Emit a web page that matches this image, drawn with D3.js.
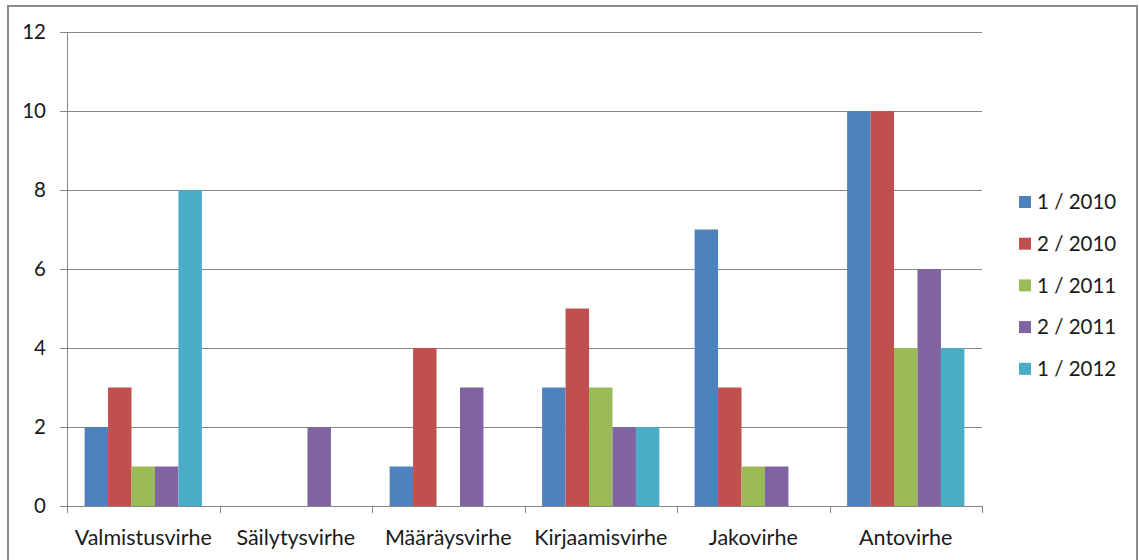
<!DOCTYPE html>
<html>
<head>
<meta charset="utf-8">
<script src="https://cdn.jsdelivr.net/npm/d3@7"></script>
<style>
  html, body { margin: 0; padding: 0; background: #fff; }
  svg { display: block; }
</style>
</head>
<body>
<svg id="chart" width="1139" height="560"></svg>
<script>
// Virhetyypit ja jaksokohtaiset lukumäärät
const categories = ["Valmistusvirhe", "Säilytysvirhe", "Määräysvirhe", "Kirjaamisvirhe", "Jakovirhe", "Antovirhe"];
const seriesNames = ["1 / 2010", "2 / 2010", "1 / 2011", "2 / 2011", "1 / 2012"];
const s2010a = [2, 0, 1, 3, 7, 10];
const s2010b = [3, 0, 4, 5, 3, 10];
const s2011a = [1, 0, 0, 3, 1, 4];
const s2011b = [1, 2, 3, 2, 1, 6];
const s2012a = [8, 0, 0, 2, 0, 4];
const yTicks = [0, 2, 4, 6, 8, 10, 12];
const colors = ["#4F81BD", "#C0504D", "#9BBB59", "#8064A2", "#4BACC6"];

const seriesValues = [s2010a, s2010b, s2011a, s2011b, s2012a];

const svg = d3.select("#chart");
const font = "Lato, 'Open Sans', sans-serif";
const fontSize = 20.5;

// Outer chart frame
svg.append("rect")
  .attr("x", 8).attr("y", 6)
  .attr("width", 1129).attr("height", 570)
  .attr("fill", "#fff")
  .attr("stroke", "#8c8c8c").attr("stroke-width", 2);

const plot = { left: 67, right: 982, top: 32, bottom: 506 };

// Category slots with an Excel-style 150% gap between clusters
const x0 = d3.scaleBand()
  .domain(categories)
  .range([plot.left, plot.right])
  .padding(0);
const slot = x0.bandwidth();
const barW = slot / 6.5;
const x1 = d3.scaleBand()
  .domain(d3.range(seriesNames.length))
  .range([0, barW * seriesNames.length]);

const y = d3.scaleLinear().domain([0, 12]).range([plot.bottom, plot.top]);

// Horizontal gridlines
svg.append("g")
  .selectAll("line")
  .data(yTicks)
  .join("line")
  .attr("x1", plot.left - 7).attr("x2", plot.right)
  .attr("y1", d => Math.round(y(d)) + 0.5).attr("y2", d => Math.round(y(d)) + 0.5)
  .attr("stroke", "#868686").attr("stroke-width", 1);

// Y axis labels
svg.append("g")
  .selectAll("text")
  .data(yTicks)
  .join("text")
  .attr("x", 46)
  .attr("y", d => y(d))
  .attr("dy", "0.35em")
  .attr("text-anchor", "end")
  .attr("font-family", font)
  .attr("font-size", fontSize)
  .attr("fill", "#1a1a1a")
  .text(d => d);

// Bars
const groups = svg.append("g")
  .selectAll("g")
  .data(categories)
  .join("g")
  .attr("transform", c => `translate(${x0(c) + barW * 0.75},0)`);

groups.selectAll("rect")
  .data((c, i) => seriesValues.map((vals, s) => ({ s, v: vals[i] })))
  .join("rect")
  .attr("x", d => x1(d.s))
  .attr("width", x1.bandwidth())
  .attr("y", d => y(d.v))
  .attr("height", d => y(0) - y(d.v))
  .attr("fill", d => colors[d.s]);

// Axis lines
svg.append("line")
  .attr("x1", plot.left + 0.5).attr("x2", plot.left + 0.5)
  .attr("y1", plot.top).attr("y2", plot.bottom + 7)
  .attr("stroke", "#868686");
svg.append("line")
  .attr("x1", plot.left).attr("x2", plot.right)
  .attr("y1", plot.bottom + 0.5).attr("y2", plot.bottom + 0.5)
  .attr("stroke", "#868686");

// Category ticks
svg.append("g")
  .selectAll("line")
  .data(d3.range(categories.length + 1))
  .join("line")
  .attr("x1", i => Math.round(plot.left + i * slot) + 0.5)
  .attr("x2", i => Math.round(plot.left + i * slot) + 0.5)
  .attr("y1", plot.bottom).attr("y2", plot.bottom + 7)
  .attr("stroke", "#868686");

// Category labels
svg.append("g")
  .selectAll("text")
  .data(categories)
  .join("text")
  .attr("x", c => x0(c) + slot / 2)
  .attr("y", 537)
  .attr("dy", "0.35em")
  .attr("text-anchor", "middle")
  .attr("font-family", font)
  .attr("font-size", 21.5)
  .attr("fill", "#1a1a1a")
  .text(c => c);

// Legend
const legend = svg.append("g")
  .selectAll("g")
  .data(seriesNames)
  .join("g")
  .attr("transform", (d, i) => `translate(1019, ${202 + i * 41.7})`);
legend.append("rect")
  .attr("x", 0).attr("y", -6)
  .attr("width", 12).attr("height", 12)
  .attr("fill", (d, i) => colors[i]);
legend.append("text")
  .attr("x", 18).attr("y", 0)
  .attr("dy", "0.35em")
  .attr("font-family", font)
  .attr("font-size", fontSize)
  .attr("fill", "#1a1a1a")
  .text(d => d);
</script>
</body>
</html>
